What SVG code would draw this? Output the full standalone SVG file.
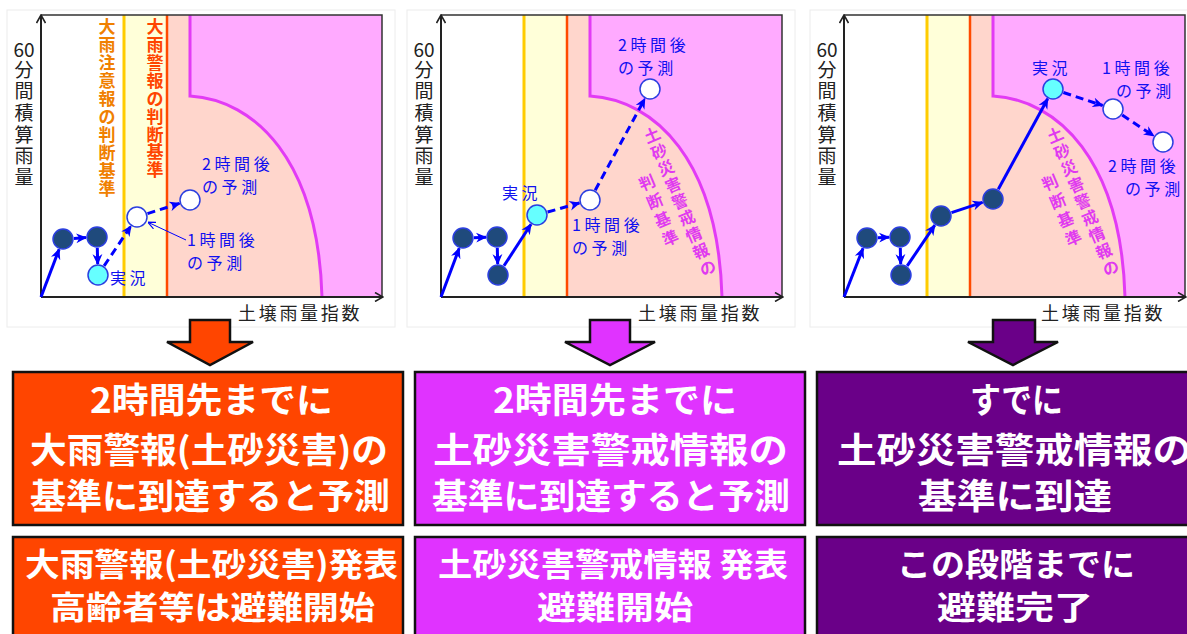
<svg xmlns="http://www.w3.org/2000/svg" width="1187" height="634" viewBox="0 0 1187 634">
<style>
.frame{fill:#fff;stroke:#ececec;stroke-width:1}
.wz{fill:#fff}
.yz{fill:#FFFFD9}
.pz{fill:#FFD6CC}
.mz{fill:#FFAAFF}
.bnd{fill:none;stroke:#E23BF5;stroke-width:3}
.yl{stroke:#FFCC00;stroke-width:3}
.rl{stroke:#FF4B00;stroke-width:2.5}
.brd{fill:none;stroke:#333;stroke-width:1.5}
.axis{fill:none;stroke:#222;stroke-width:2}
.ax{font-family:"Noto Sans CJK JP","Noto Sans",sans-serif;font-size:18px;fill:#222}
.ylab{font-family:"Noto Sans CJK JP","Noto Sans",sans-serif;font-size:19px;fill:#222;text-anchor:middle}
.bl{font-family:"Noto Sans CJK JP","Noto Sans",sans-serif;font-size:16px;fill:#1010F0;letter-spacing:3.6px}
.vo{font-family:"Noto Sans CJK JP",sans-serif;font-size:17px;font-weight:bold;fill:#F08000;text-anchor:middle}
.vr{font-family:"Noto Sans CJK JP",sans-serif;font-size:17px;font-weight:bold;fill:#FF4500;text-anchor:middle}
.vm{font-family:"Noto Sans CJK JP",sans-serif;font-size:16px;font-weight:bold;fill:#E03AF0;text-anchor:middle}
.dk{fill:#1F4A7C;stroke:#2B3FE0;stroke-width:1.5}
.cy{fill:#66FFFF;stroke:#2B3FE0;stroke-width:1.5}
.wh{fill:#fff;stroke:#2B3FE0;stroke-width:1.5}
.sol{fill:none;stroke:#0000FF;stroke-width:3;marker-end:url(#ah)}
.dsh{fill:none;stroke:#0000FF;stroke-width:3;stroke-dasharray:8 5;marker-end:url(#ah)}
.ld{fill:none;stroke:#0000FF;stroke-width:1;marker-end:url(#ahs)}
.bx{stroke:#111;stroke-width:2.5}
.bt{font-family:"Noto Sans CJK JP","Noto Sans",sans-serif;font-weight:bold;fill:#fff;font-size:35px}
.bt2{font-family:"Noto Sans CJK JP","Noto Sans",sans-serif;font-weight:bold;fill:#fff;font-size:32px}
.ar{stroke:#111;stroke-width:2.5;stroke-linejoin:miter}
</style>
<defs>
<marker id="ah" viewBox="0 0 10 10" refX="9" refY="5" markerWidth="11" markerHeight="11" markerUnits="userSpaceOnUse" orient="auto"><path d="M0,0.5 L10,5 L0,9.5 L3,5 Z" fill="#0000FF"/></marker>
<marker id="ahs" viewBox="0 0 10 10" refX="9" refY="5" markerWidth="8" markerHeight="8" markerUnits="userSpaceOnUse" orient="auto"><path d="M0,0.5 L10,5 L0,9.5" fill="none" stroke="#0000FF" stroke-width="1.5"/></marker>
<marker id="axa" viewBox="0 0 10 10" refX="9" refY="5" markerWidth="10" markerHeight="10" markerUnits="userSpaceOnUse" orient="auto"><path d="M1,0.5 L9,5 L1,9.5" fill="none" stroke="#222" stroke-width="1.6"/></marker>
<g id="chart">
<rect class="wz" x="41" y="15" width="83" height="282"/>
<rect class="yz" x="124" y="15" width="43" height="282"/>
<path class="pz" d="M167,15 H190 V96 C255,100 318,160 322,297 H167 Z"/>
<path class="mz" d="M190,15 H382 V297 H322 C318,160 255,100 190,96 Z"/>
<path class="bnd" d="M190,15 V96 C255,100 318,160 322,297"/>
<line class="yl" x1="124" y1="15" x2="124" y2="297"/>
<line class="rl" x1="167" y1="15" x2="167" y2="297"/>
<path class="brd" d="M41,15 H382 V297"/>
<path class="axis" d="M41,297 V15" marker-end="url(#axa)"/>
<path class="axis" d="M41,297 H383" marker-end="url(#axa)"/>
<text class="ylab" x="24" y="57">60</text>
<text class="ylab" x="24 24 24 24 24 24" y="77 98 120 142 163 184">分間積算雨量</text>
<text class="ax" x="238" y="320" letter-spacing="2.7">土壌雨量指数</text>
</g>
</defs>

<g id="panel1">
<rect class="frame" x="7" y="10" width="388" height="317"/>
<use href="#chart"/>
<text class="vo" x="107 107 107 107 107 107 107 107 107 107" y="33 51 69 87 105 123 141 159 177 195">大雨注意報の判断基準</text>
<text class="vr" x="155 155 155 155 155 155 155 155 155" y="33 51 69 87 105 123 141 158 176">大雨警報の判断基準</text>
</g>
<g id="panel2">
<rect class="frame" x="407" y="10" width="388" height="317"/>
<use href="#chart" transform="translate(400,0)"/>
<g transform="translate(652,135) rotate(-22.8)">
<text class="vm" x="0 0 0 0 0 0 0 0 0" y="6 24 42 60 78 96 114 132 150">土砂災害警戒情報の</text>
<text class="vm" x="-23 -23 -23 -23" y="48 68 88 108">判断基準</text>
</g>
</g>
<g id="panel3">
<rect class="frame" x="810" y="10" width="390" height="317"/>
<use href="#chart" transform="translate(803,0)"/>
<g transform="translate(1055,135) rotate(-22.8)">
<text class="vm" x="0 0 0 0 0 0 0 0 0" y="6 24 42 60 78 96 114 132 150">土砂災害警戒情報の</text>
<text class="vm" x="-23 -23 -23 -23" y="48 68 88 108">判断基準</text>
</g>
</g>

<g id="connectors">
<path class="sol" d="M41,297 L59.1,249.3"/>
<path class="sol" d="M74,238.4 L86,237.6"/>
<path class="sol" d="M97.3,248 L97.7,264"/>
<path class="dsh" d="M104.1,265.9 L130.9,226.1"/>
<path class="dsh" d="M147.5,213.6 L179.5,203.4"/>
<path class="ld" d="M186,240 L148.5,222.5"/>

<path class="sol" d="M441,297 L459.2,248.3"/>
<path class="sol" d="M474,237.7 L486,237.3"/>
<path class="sol" d="M497.3,248 L497.7,264"/>
<path class="sol" d="M504,265.8 L531,224.2"/>
<path class="dsh" d="M547.6,212 L579.4,203"/>
<path class="dsh" d="M595.2,190.3 L644.8,98.7"/>

<path class="sol" d="M844,297 L863,248.3"/>
<path class="sol" d="M878,237.7 L889,237.3"/>
<path class="sol" d="M900.3,248 L900.7,264"/>
<path class="sol" d="M907.2,265.9 L934.8,225.1"/>
<path class="sol" d="M951.5,212.6 L982.5,202.4"/>
<path class="sol" d="M998.3,189.3 L1047.7,98.7"/>
<path class="dsh" d="M1063.4,92.5 L1102.6,105.5"/>
<path class="dsh" d="M1122.2,115.1 L1153.8,135.9"/>

<polygon class="ar" fill="#FF4500" points="190,320 230,320 230,342 253,342 210,365 167,342 190,342"/>
<polygon class="ar" fill="#E033FF" points="590,320 630,320 630,342 655,342 610,365 565,342 590,342"/>
<polygon class="ar" fill="#6A0088" points="993,320 1035,320 1035,342 1058,342 1013,365 968,342 993,342"/>
</g>

<g id="p1-points">
<circle id="p1-d1" class="dk" cx="63" cy="239" r="10"/>
<circle id="p1-d2" class="dk" cx="97" cy="237" r="10"/>
<circle id="p1-c" class="cy" cx="98" cy="275" r="10"/>
<circle id="p1-w1" class="wh" cx="137" cy="217" r="10"/>
<circle id="p1-w2" class="wh" cx="190" cy="200" r="10"/>
<text class="bl" x="110" y="284">実況</text>
<text class="bl" x="187" y="246">1時間後</text>
<text class="bl" x="187" y="269">の予測</text>
<text class="bl" x="202" y="170">2時間後</text>
<text class="bl" x="202" y="193">の予測</text>
</g>
<g id="p2-points">
<circle class="dk" cx="463" cy="238" r="10"/>
<circle class="dk" cx="497" cy="237" r="10"/>
<circle class="dk" cx="498" cy="275" r="10"/>
<circle class="cy" cx="537" cy="215" r="10"/>
<circle class="wh" cx="590" cy="200" r="10"/>
<circle class="wh" cx="650" cy="89" r="10"/>
<text class="bl" x="502" y="199">実況</text>
<text class="bl" x="572" y="231">1時間後</text>
<text class="bl" x="572" y="254">の予測</text>
<text class="bl" x="618" y="51">2時間後</text>
<text class="bl" x="618" y="74">の予測</text>
</g>
<g id="p3-points">
<circle class="dk" cx="867" cy="238" r="10"/>
<circle class="dk" cx="900" cy="237" r="10"/>
<circle class="dk" cx="901" cy="275" r="10"/>
<circle class="dk" cx="941" cy="216" r="10"/>
<circle class="dk" cx="993" cy="199" r="10"/>
<circle class="cy" cx="1053" cy="89" r="10"/>
<circle class="wh" cx="1113" cy="109" r="10"/>
<circle class="wh" cx="1163" cy="142" r="10"/>
<text class="bl" x="1032" y="74">実況</text>
<text class="bl" x="1102" y="74">1時間後</text>
<text class="bl" x="1116" y="97">の予測</text>
<text class="bl" x="1108" y="172">2時間後</text>
<text class="bl" x="1125" y="195">の予測</text>
</g>

<g id="box1-top">
<rect class="bx" fill="#FF4500" x="13" y="372" width="390" height="153"/>
<text class="bt" x="90" y="413" textLength="243" lengthAdjust="spacingAndGlyphs">2時間先までに</text>
<text class="bt" x="30" y="463" textLength="358" lengthAdjust="spacingAndGlyphs">大雨警報(土砂災害)の</text>
<text class="bt" x="30" y="509" textLength="360" lengthAdjust="spacingAndGlyphs">基準に到達すると予測</text>
</g>
<g id="box1-bottom">
<rect class="bx" fill="#FF4500" x="13" y="537" width="390" height="110"/>
<text class="bt2" x="25" y="576" textLength="373" lengthAdjust="spacingAndGlyphs">大雨警報(土砂災害)発表</text>
<text class="bt2" x="50" y="619" textLength="325" lengthAdjust="spacingAndGlyphs">高齢者等は避難開始</text>
</g>
<g id="box2-top">
<rect class="bx" fill="#E033FF" x="415" y="372" width="390" height="153"/>
<text class="bt" x="493" y="413" textLength="244" lengthAdjust="spacingAndGlyphs">2時間先までに</text>
<text class="bt" x="433" y="463" textLength="355" lengthAdjust="spacingAndGlyphs">土砂災害警戒情報の</text>
<text class="bt" x="432" y="509" textLength="358" lengthAdjust="spacingAndGlyphs">基準に到達すると予測</text>
</g>
<g id="box2-bottom">
<rect class="bx" fill="#E033FF" x="415" y="537" width="390" height="110"/>
<text class="bt2" x="438" y="576" textLength="350" lengthAdjust="spacingAndGlyphs">土砂災害警戒情報 発表</text>
<text class="bt2" x="537" y="619" textLength="156" lengthAdjust="spacingAndGlyphs">避難開始</text>
</g>
<g id="box3-top">
<rect class="bx" fill="#6A0088" x="817" y="372" width="400" height="153"/>
<text class="bt" x="970" y="413" textLength="93" lengthAdjust="spacingAndGlyphs">すでに</text>
<text class="bt" x="837" y="463" textLength="355" lengthAdjust="spacingAndGlyphs">土砂災害警戒情報の</text>
<text class="bt" x="918" y="509" textLength="194" lengthAdjust="spacingAndGlyphs">基準に到達</text>
</g>
<g id="box3-bottom">
<rect class="bx" fill="#6A0088" x="817" y="537" width="400" height="110"/>
<text class="bt2" x="897" y="576" textLength="238" lengthAdjust="spacingAndGlyphs">この段階までに</text>
<text class="bt2" x="937" y="619" textLength="156" lengthAdjust="spacingAndGlyphs">避難完了</text>
</g>
</svg>
